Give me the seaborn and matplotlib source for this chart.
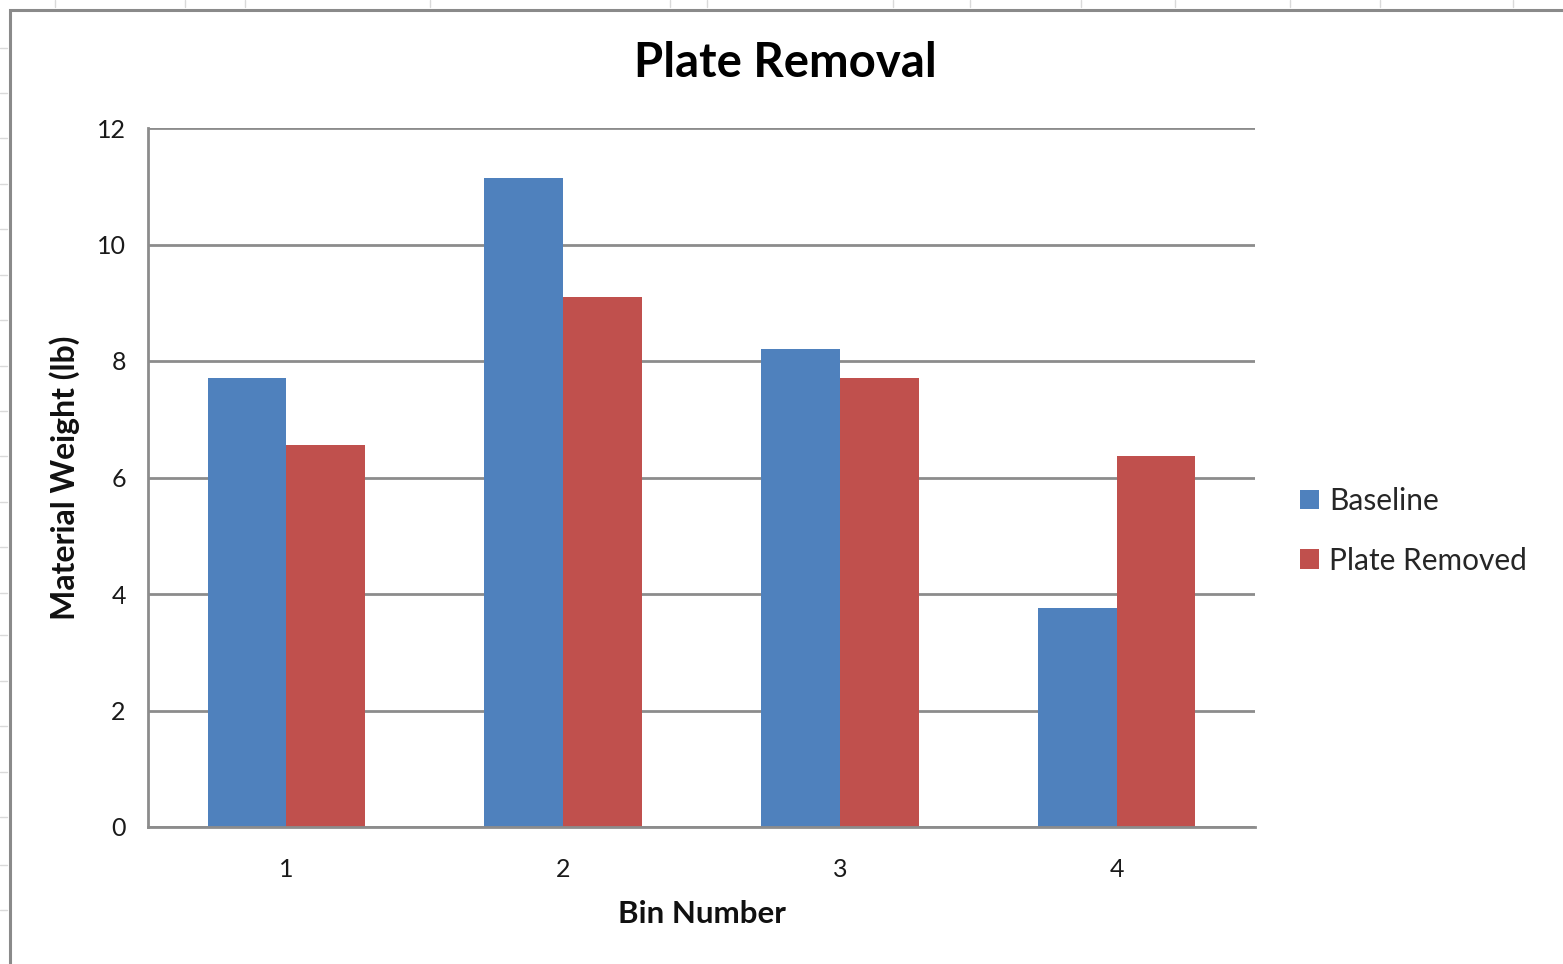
import matplotlib
matplotlib.use("Agg")
import matplotlib.pyplot as plt
from matplotlib.lines import Line2D
from matplotlib.patches import Rectangle, Patch
import seaborn as sns
import pandas as pd

# Data
bins = ["1", "2", "3", "4"]
baseline = [7.7, 11.15, 8.2, 3.76]
plate_removed = [6.55, 9.1, 7.7, 6.37]
series_names = ["Baseline", "Plate Removed"]
y_ticks = [0, 2, 4, 6, 8, 10, 12]

df = pd.DataFrame({
    "Bin": bins * 2,
    "Weight": baseline + plate_removed,
    "Series": [series_names[0]] * len(bins) + [series_names[1]] * len(bins),
})

sns.set_theme(style="white")
plt.rcParams["font.family"] = ["Lato", "DejaVu Sans"]

BLUE = "#4F81BD"
RED = "#C0504D"
GRID = "#8C8C8C"

fig = plt.figure(figsize=(15.63, 9.64), dpi=100)
fig.patch.set_facecolor("white")

# Chart-area border and faint sheet cell marks around it
W, H = 1563, 964
def fx(px):
    return px / W
def fy(py):
    return 1 - py / H

fig.add_artist(Rectangle((fx(10), fy(1000)), fx(1600) - fx(10), fy(10) - fy(1000),
                         transform=fig.transFigure, fill=False,
                         edgecolor="#8A8A8A", linewidth=2.2))
for px in [55, 185, 245, 430, 670, 707, 893, 970, 1081, 1175, 1290, 1380, 1513]:
    fig.add_artist(Line2D([fx(px), fx(px)], [fy(0), fy(7)], transform=fig.transFigure,
                          color="#DADADA", linewidth=1.0))
for py in [48, 93, 138, 184, 229, 275, 320, 366, 411, 456, 502, 547, 593, 635, 681, 726, 772, 817, 865, 910]:
    fig.add_artist(Line2D([fx(0), fx(7)], [fy(py), fy(py)], transform=fig.transFigure,
                          color="#DADADA", linewidth=1.0))

ax = fig.add_axes([fx(148), fy(827), fx(1255) - fx(148), fy(128) - fy(827)])

sns.barplot(data=df, x="Bin", y="Weight", hue="Series", order=bins,
            hue_order=series_names, palette=[BLUE, RED], width=0.57, gap=0,
            saturation=1, edgecolor="none", linewidth=0, legend=False, ax=ax)

ax.set_ylim(0, 12)
ax.set_xlim(-0.5, len(bins) - 0.5)
ax.set_yticks(y_ticks)
ax.set_yticklabels([str(t) for t in y_ticks])
ax.yaxis.grid(True, color=GRID, linewidth=2)
ax.set_axisbelow(True)
ax.tick_params(axis="both", length=0, labelsize=18, colors="#1a1a1a")
ax.tick_params(axis="y", pad=16)
ax.tick_params(axis="x", pad=22)

for side in ["top", "right"]:
    ax.spines[side].set_visible(False)
for side in ["left", "bottom"]:
    ax.spines[side].set_color(GRID)
    ax.spines[side].set_linewidth(2)

ax.set_xlabel("Bin Number", fontsize=22.5, fontweight="bold", labelpad=14, color="#111111")
ax.set_ylabel("Material Weight (lb)", fontsize=23, fontweight="bold", labelpad=12, color="#111111")

fig.text(fx(785), fy(63), "Plate Removal", ha="center", va="center",
         fontsize=34, fontweight="bold", color="black")

handles = [Patch(facecolor=BLUE, edgecolor="none"), Patch(facecolor=RED, edgecolor="none")]
fig.legend(handles, series_names, loc="center left",
           bbox_to_anchor=(fx(1300), fy(531)), frameon=False, fontsize=21.5,
           handlelength=0.62, handleheight=0.62, handletextpad=0.35,
           labelspacing=1.05, borderpad=0, borderaxespad=0)

fig.savefig("out.png", dpi=100, facecolor="white")
